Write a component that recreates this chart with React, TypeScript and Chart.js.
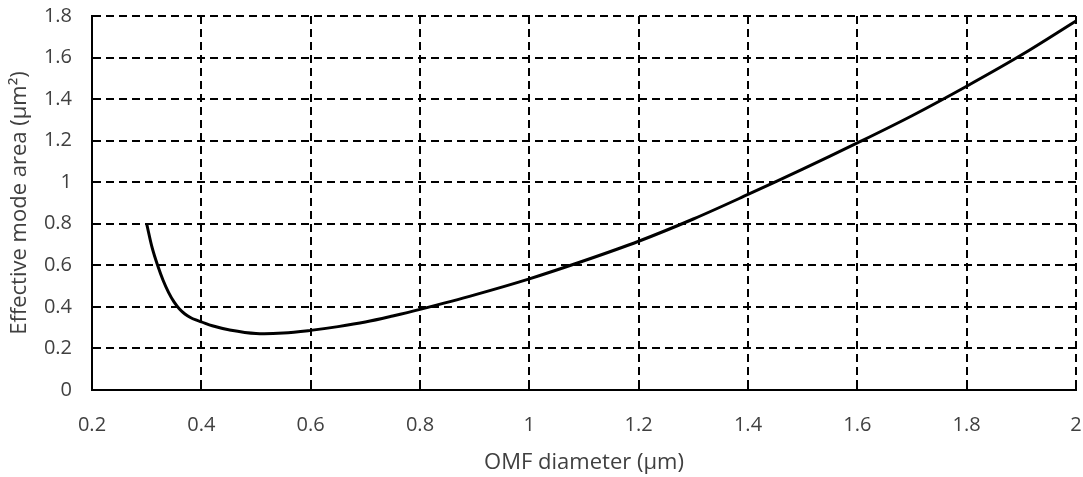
import React, { useEffect, useRef } from "react";
import { Chart, registerables } from "chart.js";

Chart.register(...registerables);

// OMF diameter (µm) and the corresponding effective mode area (µm²)
const diameters = [
  0.30, 0.31, 0.32, 0.33, 0.34, 0.35, 0.36, 0.37, 0.38, 0.39, 0.40, 0.42, 0.45,
  0.50, 0.55, 0.60, 0.65, 0.70, 0.75, 0.80, 0.90, 1.00, 1.10, 1.20, 1.30, 1.40,
  1.50, 1.60, 1.70, 1.80, 1.90, 2.00,
];
const modeAreas = [
  0.80, 0.685, 0.60, 0.528, 0.470, 0.424, 0.390, 0.366, 0.349, 0.337, 0.328, 0.309, 0.290,
  0.272, 0.274, 0.287, 0.305, 0.327, 0.356, 0.388, 0.458, 0.535, 0.622, 0.716, 0.823, 0.941,
  1.063, 1.189, 1.320, 1.462, 1.612, 1.776,
];

const xTickValues = [0.2, 0.4, 0.6, 0.8, 1, 1.2, 1.4, 1.6, 1.8, 2];
const yTickValues = [0, 0.2, 0.4, 0.6, 0.8, 1, 1.2, 1.4, 1.6, 1.8];

const xTitle = "OMF diameter (µm)";
const yTitle = "Effective mode area (µm²)";

const FONT = "'Open Sans', sans-serif";
const TEXT = "#404040";
const GRID_DASH = [8, 5];

// Short tick marks pointing inward from the x axis
const innerTicks = {
  id: "innerTicks",
  afterDatasetsDraw(chart: any) {
    const x = chart.scales.x;
    const ctx = chart.ctx;
    ctx.save();
    ctx.strokeStyle = "#000";
    ctx.lineWidth = 2;
    ctx.setLineDash([]);
    for (const v of xTickValues) {
      const px = Math.round(x.getPixelForValue(v));
      ctx.beginPath();
      ctx.moveTo(px, x.top);
      ctx.lineTo(px, x.top - 5);
      ctx.stroke();
    }
    ctx.restore();
  },
};

const tickLabel = (v: any) => String(Number(Number(v).toFixed(2)));

export default function App() {
  const ref = useRef<HTMLCanvasElement | null>(null);

  useEffect(() => {
    if (!ref.current) return;
    const chart = new Chart(ref.current, {
      type: "line",
      data: {
        datasets: [
          {
            data: diameters.map((d, i) => ({ x: d, y: modeAreas[i] })),
            borderColor: "#000",
            borderWidth: 3,
            pointRadius: 0,
            fill: false,
            tension: 0.35,
          },
        ],
      },
      options: {
        animation: false,
        responsive: false,
        maintainAspectRatio: false,
        layout: { padding: { top: 16, right: 7, left: 0, bottom: 0 } },
        plugins: {
          legend: { display: false },
          tooltip: { enabled: false },
        },
        scales: {
          x: {
            type: "linear",
            min: 0.2,
            max: 2,
            afterBuildTicks: (s: any) => {
              s.ticks = xTickValues.map((v) => ({ value: v }));
            },
            afterFit: (s: any) => {
              s.height = 87;
              s.paddingLeft = 0;
              s.paddingRight = 0;
            },
            grid: {
              color: "#000",
              lineWidth: 2,
              drawTicks: false,
            },
            border: { display: true, color: "#000", width: 2, dash: GRID_DASH },
            ticks: {
              padding: 23,
              color: TEXT,
              font: { family: FONT, size: 20 },
              callback: tickLabel,
            },
            title: {
              display: true,
              text: xTitle,
              color: TEXT,
              font: { family: FONT, size: 22 },
              padding: { top: 0, bottom: 1 },
            },
          },
          y: {
            type: "linear",
            min: 0,
            max: 1.8,
            afterBuildTicks: (s: any) => {
              s.ticks = yTickValues.map((v) => ({ value: v }));
            },
            afterFit: (s: any) => {
              s.width = 92;
              s.paddingTop = 0;
              s.paddingBottom = 0;
            },
            grid: {
              color: "#000",
              lineWidth: 2,
              drawTicks: false,
            },
            border: { display: true, color: "#000", width: 2, dash: GRID_DASH },
            ticks: {
              padding: 20,
              color: TEXT,
              font: { family: FONT, size: 20 },
              callback: tickLabel,
            },
            title: {
              display: true,
              text: yTitle,
              color: TEXT,
              font: { family: FONT, size: 22 },
              padding: { top: 7, bottom: 0 },
            },
          },
        },
      },
      plugins: [innerTicks],
    } as any);
    return () => chart.destroy();
  }, []);

  return (
    <div style={{ position: "fixed", left: 0, top: 0, width: 1083, height: 477, background: "#fff" }}>
      <canvas ref={ref} width={1083} height={477} />
    </div>
  );
}
